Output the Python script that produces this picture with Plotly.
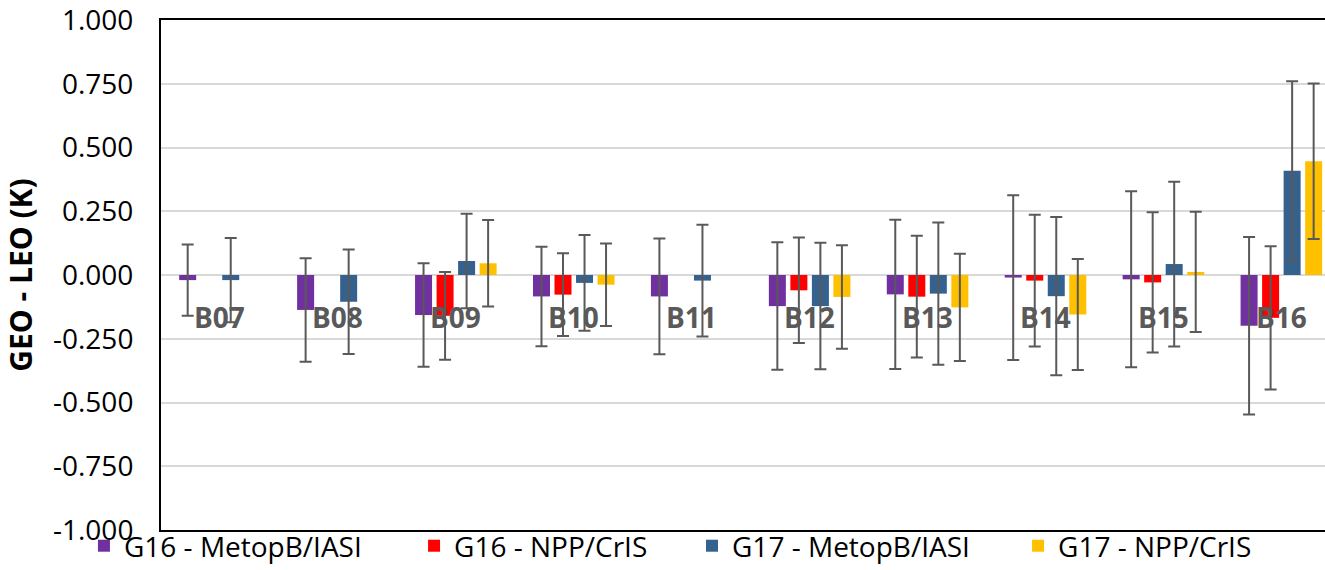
import plotly.graph_objects as go

categories = ["B07", "B08", "B09", "B10", "B11", "B12", "B13", "B14", "B15", "B16"]
series_names = ["G16 - MetopB/IASI", "G16 - NPP/CrIS", "G17 - MetopB/IASI", "G17 - NPP/CrIS"]

g16_metopb = [-0.020, -0.137, -0.157, -0.084, -0.084, -0.122, -0.076, -0.010, -0.017, -0.199]
g16_metopb_err = [0.140, 0.203, 0.203, 0.195, 0.227, 0.250, 0.293, 0.323, 0.345, 0.348]
g16_npp = [None, None, -0.160, -0.077, None, -0.060, -0.085, -0.022, -0.029, -0.168]
g16_npp_err = [None, None, 0.172, 0.162, None, 0.207, 0.239, 0.258, 0.275, 0.281]
g17_metopb = [-0.020, -0.105, 0.055, -0.031, -0.022, -0.122, -0.073, -0.083, 0.043, 0.409]
g17_metopb_err = [0.165, 0.205, 0.185, 0.188, 0.219, 0.248, 0.279, 0.310, 0.323, 0.351]
g17_npp = [None, None, 0.046, -0.038, None, -0.086, -0.127, -0.155, 0.012, 0.446]
g17_npp_err = [None, None, 0.170, 0.162, None, 0.203, 0.210, 0.218, 0.236, 0.305]

tick_vals = [1.0, 0.75, 0.5, 0.25, 0.0, -0.25, -0.5, -0.75, -1.0]
tick_labels = ["1.000", "0.750", "0.500", "0.250", "0.000", "-0.250", "-0.500", "-0.750", "-1.000"]

colors = ["#7030A0", "#FF0000", "#35618F", "#FFC000"]
values = [g16_metopb, g16_npp, g17_metopb, g17_npp]
errors = [g16_metopb_err, g16_npp_err, g17_metopb_err, g17_npp_err]
legend_ids = ["legend", "legend2", "legend3", "legend4"]
legend_x = [-0.0662, 0.2174, 0.4562, 0.7363]

fig = go.Figure()
for name, vals, errs, col, lid in zip(series_names, values, errors, colors, legend_ids):
    fig.add_trace(go.Bar(
        x=categories, y=vals, name=name, marker_color=col,
        marker_line_width=0, legend=lid,
        error_y=dict(type="data", array=errs, visible=True,
                     color="#595959", thickness=2, width=6),
    ))

for c in categories:
    fig.add_annotation(x=c, y=0, yshift=-42, text=c, showarrow=False,
                       xanchor="center", yanchor="middle",
                       font=dict(family="Open Sans", size=28, color="#595959", weight="bold"))

legend_font = dict(family="Open Sans", size=28, color="#000000")
legends = {}
for lid, lx in zip(legend_ids, legend_x):
    legends[lid] = dict(x=lx, y=-0.0314, xanchor="left", yanchor="middle",
                        orientation="h", font=legend_font,
                        bgcolor="rgba(0,0,0,0)")

fig.update_layout(
    width=1325, height=570,
    margin=dict(l=161, r=0, t=20, b=40, autoexpand=False),
    paper_bgcolor="white", plot_bgcolor="white",
    barmode="group", bargap=0.27, bargroupgap=0.21,
    showlegend=True,
    **legends,
    xaxis=dict(range=[-0.5, 9.37], showticklabels=False, showgrid=False,
               showline=True, linecolor="#000000", linewidth=2, mirror=True,
               ticks="", zeroline=False, automargin=False),
    yaxis=dict(range=[-1, 1], tickvals=tick_vals, ticktext=tick_labels,
               showgrid=True, gridcolor="#D9D9D9", gridwidth=1.5,
               zeroline=True, zerolinecolor="#D9D9D9", zerolinewidth=2,
               showline=True, linecolor="#000000", linewidth=2, mirror=False,
               ticks="", ticklabelstandoff=20, ticklabeloverflow="allow",
               automargin=False,
               tickfont=dict(family="Open Sans", size=28, color="#000000"),
               title=dict(text="GEO - LEO (K)", standoff=23,
                          font=dict(family="Open Sans", size=30, color="#000000", weight="bold"))),
)

fig.write_html("out.html", config={"displayModeBar": False},
               post_script="document.body.style.margin='0';")
